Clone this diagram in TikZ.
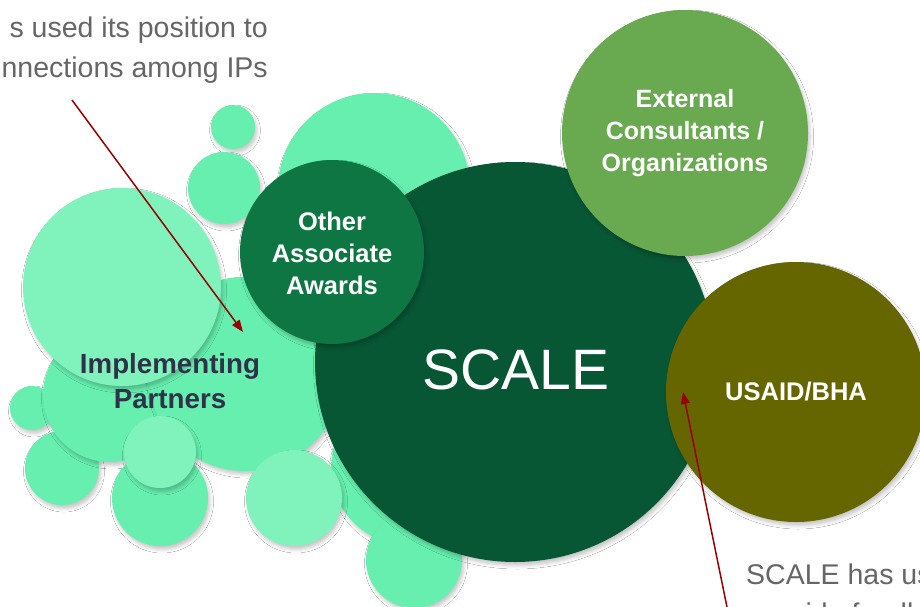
\documentclass[tikz,border=0pt]{standalone}
\usepackage{fontspec}
\setmainfont{Liberation Sans}
\usetikzlibrary{arrows.meta,shadows.blur}
\definecolor{midgreen}{HTML}{66EFAF}
\definecolor{palegreen}{HTML}{80F3BC}
\definecolor{othergreen}{HTML}{0D7643}
\definecolor{scalegreen}{HTML}{075735}
\definecolor{extgreen}{HTML}{69AA50}
\definecolor{usaidolive}{HTML}{666600}
\definecolor{arrowred}{HTML}{990000}
\definecolor{navytext}{HTML}{2F3249}
\definecolor{graytext}{HTML}{666666}
\begin{document}
\begin{tikzpicture}[x=1pt,y=-1pt,
  bub/.style={circle, inner sep=0pt, draw=none, minimum size=#1},
  sh/.style={blur shadow={shadow xshift=2pt, shadow yshift=-3.5pt, shadow blur radius=3.5pt, shadow opacity=22}},
  mid/.style={bub=#1, fill=midgreen, sh},
  pale/.style={bub=#1, fill=palegreen, sh},
  whitelabel/.style={text=white, align=center, font=\bfseries\fontsize{25}{32}\selectfont},
  note/.style={text=graytext, font=\fontsize{28.5}{38}\selectfont, inner sep=0pt},
  arr/.style={draw=arrowred, line width=1.5pt, -{Triangle[length=12pt,width=9pt]}}]
\useasboundingbox (0,0) rectangle (920,607);
\clip (0,0) rectangle (920,607);
\fill[white] (0,0) rectangle (920,607);
% background bubbles
\node[mid=192pt] (c3) at (374,189) {};
\node[mid=44pt] (c1) at (233,127) {};
\node[mid=72pt] (c2) at (224,188) {};
\node[mid=44pt] (c7) at (32,408) {};
\node[mid=74pt] (c8) at (62,468) {};
\node[mid=134pt] (c6) at (110,395) {};
\node[mid=194pt] (c5) at (245,374) {};
\node[mid=96pt] (c9) at (160,498) {};
\node[mid=154pt] (c12) at (408,468) {};
\node[mid=96pt] (c13) at (414,560) {};
\node[pale=198pt] (c4) at (122,287) {};
\node[pale=72pt] (c10) at (160,452) {};
\node[pale=96pt] (c11) at (294,498) {};
% main bubbles
\node[bub=400pt, fill=scalegreen, sh] (scale) at (515,362) {};
\node[text=white, font=\fontsize{57}{60}\selectfont] (scalelabel) at (516,370) {SCALE};
\node[bub=184pt, fill=othergreen, sh] (other) at (332,252) {};
\node[whitelabel, font=\bfseries\fontsize{25.5}{32}\selectfont] (otherlabel) at (332,253) {Other\\Associate\\Awards};
\node[bub=246pt, fill=extgreen, sh] (ext) at (685,133) {};
\node[whitelabel] (extlabel) at (685,133) {External\\Consultants /\\Organizations};
\node[bub=260pt, fill=usaidolive, sh] (usaid) at (796,392) {};
\node[whitelabel, font=\bfseries\fontsize{25.5}{30}\selectfont] (usaidlabel) at (796,392) {USAID/BHA};
\node[text=navytext, align=center, font=\bfseries\fontsize{27.7}{35}\selectfont] (iplabel) at (170,381) {Implementing\\Partners};
% notes
\node[note, anchor=base east] (note1a) at (268,38) {s used its position to};
\node[note, anchor=base east] (note1b) at (268,78) {nnections among IPs};
\node[note, anchor=base west] (note2a) at (746,584) {SCALE has used its position to};
\node[note, anchor=base west] (note2b) at (750,623) {provide feedback};
% arrows
\coordinate (a1s) at (72,100);
\coordinate (a1e) at (243,332);
\coordinate (a2s) at (728,612);
\coordinate (a2e) at (683,392);
\draw[arr] (a1s) -- (a1e);
\draw[arr] (a2s) -- (a2e);
\end{tikzpicture}
\end{document}
